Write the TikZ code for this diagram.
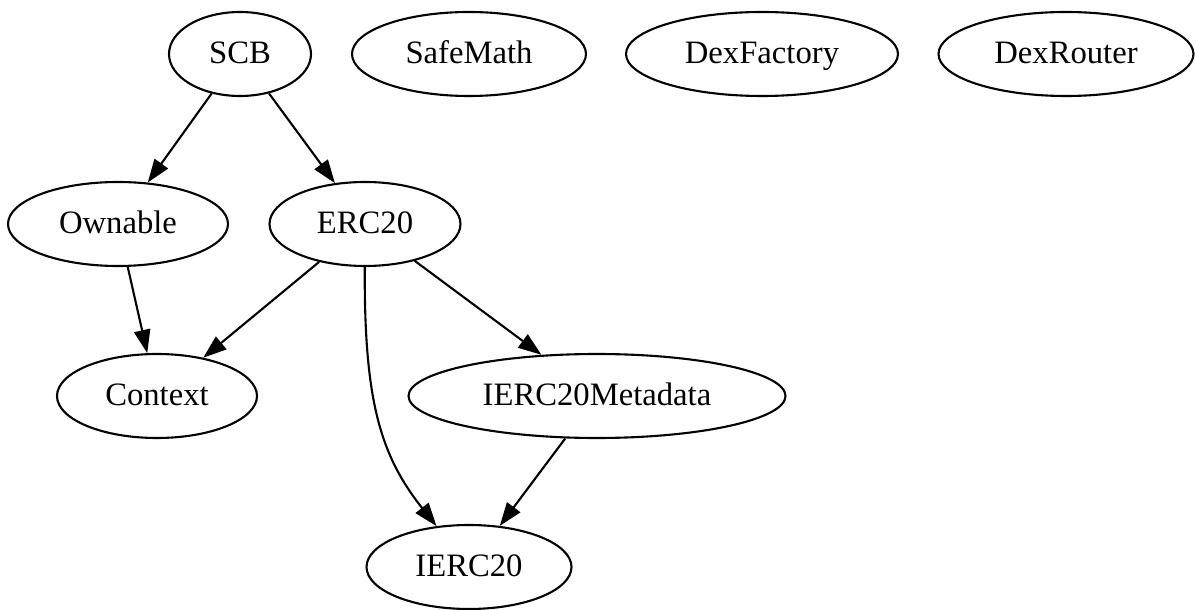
\documentclass[tikz,border=0pt]{standalone}
\usepackage{fontspec}
\setmainfont{Liberation Serif}
\usetikzlibrary{shapes.geometric,arrows.meta}
\begin{document}
\begin{tikzpicture}[x=0.4286pt,y=-0.4286pt,
  el/.style={ellipse, draw, line width=0.9pt, inner sep=0pt, minimum height=36pt,
    minimum width={#1*0.4286pt}, text height=11pt, text depth=3pt,
    font=\fontsize{14}{17}\selectfont},
  edge/.style={draw, line width=0.9pt, -{Triangle[length=10pt,width=7pt]}}]
\useasboundingbox (0,0) rectangle (1195,610);
\node[el=142] (SCB) at (240,54) {SCB};
\node[el=234] (SafeMath) at (469,54) {SafeMath};
\node[el=272] (DexFactory) at (762,54) {DexFactory};
\node[el=255] (DexRouter) at (1066,54) {DexRouter};
\node[el=220] (Ownable) at (118,224) {Ownable};
\node[el=191] (ERC20) at (365,224) {ERC20};
\node[el=200] (Context) at (157,396) {Context};
\node[el=377] (IERC20Metadata) at (597,396) {IERC20Metadata};
\node[el=205] (IERC20) at (469,567) {IERC20};
\draw[edge] (SCB) -- (Ownable);
\draw[edge] (SCB) -- (ERC20);
\draw[edge] (Ownable) -- (Context);
\draw[edge] (ERC20) -- (Context);
\draw[edge] (ERC20) -- (IERC20Metadata);
\draw[edge] (ERC20) .. controls (364,400) and (380,455) .. (IERC20);
\draw[edge] (IERC20Metadata) -- (IERC20);
\end{tikzpicture}
\end{document}
